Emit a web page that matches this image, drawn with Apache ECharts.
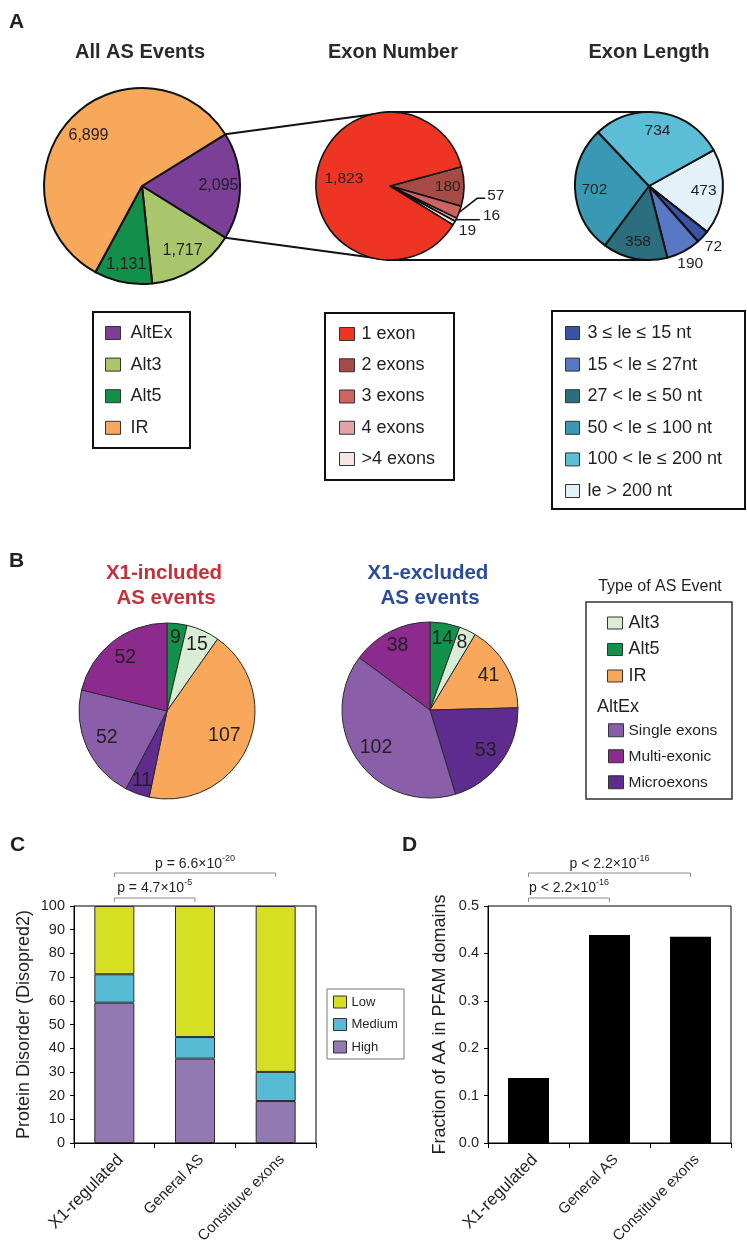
<!DOCTYPE html>
<html><head><meta charset="utf-8">
<script src="https://cdn.jsdelivr.net/npm/echarts@6/dist/echarts.min.js"></script>
<style>html,body{margin:0;padding:0;background:#fff;}#c{width:747px;height:1254px;}</style>
</head><body><div id="c"></div>
<script>
// ---------------- DATA ----------------
const asEventCats = ['AltEx', 'Alt3', 'Alt5', 'IR'];
const asEventCounts = [2095, 1717, 1131, 6899];

const exonNumberCats = ['2 exons', '3 exons', '4 exons', '>4 exons', '1 exon'];
const exonNumberCounts = [180, 57, 16, 19, 1823];
const exonNumberLegend = ['1 exon', '2 exons', '3 exons', '4 exons', '>4 exons'];

const exonLengthCats = ['le > 200 nt', '3 ≤ le ≤ 15 nt', '15 < le ≤ 27nt', '27 < le ≤ 50 nt', '50 < le ≤ 100 nt', '100 < le ≤ 200 nt'];
const exonLengthCounts = [473, 72, 190, 358, 702, 734];
const exonLengthLegend = ['3 ≤ le ≤ 15 nt', '15 < le ≤ 27nt', '27 < le ≤ 50 nt', '50 < le ≤ 100 nt', '100 < le ≤ 200 nt', 'le > 200 nt'];

const typeCats = ['Alt5', 'Alt3', 'IR', 'Microexons', 'Single exons', 'Multi-exonic'];
const x1IncludedCounts = [9, 15, 107, 11, 52, 52];
const x1ExcludedCounts = [14, 8, 41, 53, 102, 38];

const groupCats = ['X1-regulated', 'General AS', 'Constituve exons'];
const disorderHigh = [59.2, 35.6, 17.7];
const disorderMedium = [12.0, 9.1, 12.3];
const disorderLow = [28.8, 55.3, 70.0];
const disorderTicks = [0, 10, 20, 30, 40, 50, 60, 70, 80, 90, 100];
const pfamFraction = [0.137, 0.439, 0.435];
const pfamTicks = [0.0, 0.1, 0.2, 0.3, 0.4, 0.5];
const pTextsC = ['p = 6.6×10|-20', 'p = 4.7×10|-5'];
const pTextsD = ['p < 2.2×10|-16', 'p < 2.2×10|-16'];

// ---------------- STYLE / LAYOUT ----------------
const FONT = 'Liberation Sans, Arial, Helvetica, sans-serif';
const INK = '#231F20';
const colAsEvent = {'AltEx':'#7B3F98','Alt3':'#A9C66D','Alt5':'#12904A','IR':'#F8A85B'};
const colExonNum = {'1 exon':'#EE3524','2 exons':'#A64A46','3 exons':'#CE6461','4 exons':'#E3A4A6','>4 exons':'#F7E5E5'};
const colExonLen = {'3 ≤ le ≤ 15 nt':'#3A53A4','15 < le ≤ 27nt':'#5878C4','27 < le ≤ 50 nt':'#2B6E7D','50 < le ≤ 100 nt':'#3998B3','100 < le ≤ 200 nt':'#5CBDD6','le > 200 nt':'#E3F2F8'};
const colType = {'Alt5':'#12914A','Alt3':'#D8EDD3','IR':'#F9A85B','Microexons':'#5D2C8E','Single exons':'#8A5EA8','Multi-exonic':'#8C2A8D'};
const colDis = {High:'#9179B2', Medium:'#56BBD3', Low:'#D7DF23'};

const P1 = {c:[142,186], r:98}, P2 = {c:[390,186], r:74}, P3 = {c:[649,186], r:74};
const PB1 = {c:[167,711], r:88}, PB2 = {c:[430,710], r:88};
const GC = {left:74, top:906, width:242, height:237};
const GD = {left:488, top:906, width:243, height:237};

const f1 = [0.78, 0.78, 0.82, 0.75];
const f2 = [0.78, null, null, 1.21, 0.63];
const lines2 = {1:{bends:[[18,-14],[8,0]], gap:2, dy:-3}, 2:{bends:[[12,0],[12,0]], gap:3, dy:-4}};
const f3 = [0.74, 1.2, 1.19, 0.77, 0.74, 0.75];
const fB1 = [0.84, 0.83, 0.71, 0.84, 0.75, 0.77];
const fB2 = [0.82, 0.85, 0.77, 0.78, 0.75, 0.82];

const start1 = 360 * asEventCounts[0] / asEventCounts.reduce((a,b)=>a+b,0) / 2;

function makeLabelLayout(P, values, startAngle, factors, lines) {
  const total = values.reduce((a,b)=>a+b,0);
  let acc = 0;
  const mids = values.map(v => { const m = startAngle - (acc + v/2)/total*360; acc += v; return m*Math.PI/180; });
  return function (p) {
    const i = p.dataIndex, a = mids[i];
    const ux = Math.cos(a), uy = -Math.sin(a);
    const ln = lines && lines[i];
    if (ln) {
      const p0 = [P.c[0] + P.r*ux, P.c[1] + P.r*uy];
      const pts = [p0]; let last = p0;
      ln.bends.forEach(b => { last = [last[0]+b[0], last[1]+b[1]]; pts.push(last); });
      return {x: last[0]+ln.gap, y: last[1]+ln.dy, align:'left', verticalAlign:'middle', labelLinePoints: pts};
    }
    const f = factors[i];
    return {x: P.c[0] + f*P.r*ux, y: P.c[1] + f*P.r*uy, align:'center', verticalAlign:'middle'};
  };
}

function fmt(n) { return n.toLocaleString('en-US'); }

function pieSeries(P, cats, vals, cols, startAngle, factors, lines, opts) {
  return {
    type:'pie', center:P.c, radius:P.r, startAngle:startAngle, clockwise:true,
    avoidLabelOverlap:false, silent:true, animation:false,
    emphasis:{disabled:true},
    itemStyle:{borderColor:opts.border, borderWidth:opts.bw},
    label:{show:true, position:'inside', color:INK, fontSize:opts.fs, fontFamily:FONT,
      formatter: p => opts.comma ? fmt(p.value) : String(p.value)},
    labelLine:{show:false},
    labelLayout: makeLabelLayout(P, vals, startAngle, factors, lines),
    data: cats.map((n,i) => {
      const d = {name:(opts.prefix||'')+n, value:vals[i], itemStyle:{color:cols[n]}};
      if (lines && lines[i]) { d.label = {position:'outside'}; d.labelLine = {show:true, lineStyle:{color:'#111', width:1.5}}; }
      return d;
    })
  };
}

const legendBase = {orient:'vertical', padding:0, selectedMode:false, icon:'rect',
  itemStyle:{borderColor:'#333', borderWidth:1}};

function catAxis(gi) {
  return {type:'category', gridIndex:gi, data:groupCats,
    axisLine:{show:true, lineStyle:{color:'#000', width:1}},
    axisTick:{show:true, length:5, interval:0, lineStyle:{color:'#000'}},
    axisLabel:{interval:0, rotate:45, margin:8, color:INK,
      formatter:(v,i)=> i===0 ? '{b|'+v+'}' : '{s|'+v+'}',
      rich:{b:{fontSize:17, fontFamily:FONT, color:INK, padding:[18,0,0,0]}, s:{fontSize:15, fontFamily:FONT, color:INK, padding:[18,0,0,0]}}},
    splitLine:{show:false}};
}
function valAxis(gi, ticks, name, gap, dec) {
  return {type:'value', gridIndex:gi, min:ticks[0], max:ticks[ticks.length-1], interval:ticks[1]-ticks[0],
    axisLine:{show:true, lineStyle:{color:'#000', width:1}},
    axisTick:{show:true, length:4, lineStyle:{color:'#000'}},
    axisLabel:{fontSize:14.5, color:INK, fontFamily:FONT, margin:9, formatter: v => dec ? v.toFixed(dec) : String(v)},
    splitLine:{show:false},
    name:name, nameLocation:'middle', nameGap:gap, nameRotate:90,
    nameTextStyle:{fontSize:18, color:INK, fontFamily:FONT}};
}

const chart = echarts.init(document.getElementById('c'), null, {renderer:'canvas', width:747, height:1254});
chart.setOption({
  animation:false,
  backgroundColor:'#fff',
  textStyle:{fontFamily:FONT},
  grid:[
    Object.assign({show:true, borderColor:'#000', borderWidth:1, backgroundColor:'transparent', containLabel:false}, GC),
    Object.assign({show:true, borderColor:'#000', borderWidth:1, backgroundColor:'transparent', containLabel:false}, GD)
  ],
  xAxis:[catAxis(0), catAxis(1)],
  yAxis:[valAxis(0, disorderTicks, 'Protein Disorder (Disopred2)', 41, 0), valAxis(1, pfamTicks, 'Fraction of AA in PFAM domains', 39, 1)],
  legend:[
    Object.assign({}, legendBase, {left:105, top:324, itemWidth:15, itemHeight:13, itemGap:13.6, data:asEventCats,
      textStyle:{fontSize:18, color:INK, fontFamily:FONT, padding:[0,0,0,5]}}),
    Object.assign({}, legendBase, {left:339, top:325, itemWidth:15, itemHeight:13, itemGap:13.25, data:exonNumberLegend,
      textStyle:{fontSize:18, color:INK, fontFamily:FONT, padding:[0,0,0,2]}}),
    Object.assign({}, legendBase, {left:565, top:324, itemWidth:14, itemHeight:13, itemGap:13.6, data:exonLengthLegend,
      textStyle:{fontSize:18, color:INK, fontFamily:FONT, padding:[0,0,0,3]}}),
    Object.assign({}, legendBase, {left:607, top:614, itemWidth:15, itemHeight:12, itemGap:8.5, data:['B:Alt3','B:Alt5','B:IR'],
      formatter:n=>n.slice(2), textStyle:{fontSize:18, color:INK, fontFamily:FONT, padding:[0,0,0,1]}}),
    Object.assign({}, legendBase, {left:608, top:722.25, itemWidth:15, itemHeight:13, itemGap:10, data:['B:Single exons','B:Multi-exonic','B:Microexons'],
      formatter:n=>n.slice(2), textStyle:{fontSize:15.5, color:INK, fontFamily:FONT, padding:[0,0,0,0]}}),
    Object.assign({}, legendBase, {left:333, top:995.5, itemWidth:13, itemHeight:12, itemGap:9.5, data:['Low','Medium','High'],
      textStyle:{fontSize:13, color:INK, fontFamily:FONT}})
  ],
  series:[
    pieSeries(P1, asEventCats, asEventCounts, colAsEvent, start1, f1, null, {border:'#111', bw:2, fs:16, comma:true}),
    pieSeries(P2, exonNumberCats, exonNumberCounts, colExonNum, 15, f2, lines2, {border:'#111', bw:1.6, fs:15.5, comma:true}),
    pieSeries(P3, exonLengthCats, exonLengthCounts, colExonLen, 29, f3, null, {border:'#111', bw:2, fs:15.5, comma:true}),
    pieSeries(PB1, typeCats, x1IncludedCounts, colType, 90, fB1, null, {border:'#2a2a2a', bw:1, fs:19.5, prefix:'B:'}),
    pieSeries(PB2, typeCats, x1ExcludedCounts, colType, 90, fB2, null, {border:'#2a2a2a', bw:1, fs:19.5, prefix:'B:'}),
    {type:'bar', name:'High', xAxisIndex:0, yAxisIndex:0, stack:'dis', barWidth:40, data:disorderHigh, silent:true,
      itemStyle:{color:colDis.High, borderColor:'#2b2b2b', borderWidth:1}},
    {type:'bar', name:'Medium', xAxisIndex:0, yAxisIndex:0, stack:'dis', barWidth:40, data:disorderMedium, silent:true,
      itemStyle:{color:colDis.Medium, borderColor:'#2b2b2b', borderWidth:1}},
    {type:'bar', name:'Low', xAxisIndex:0, yAxisIndex:0, stack:'dis', barWidth:40, data:disorderLow, silent:true,
      itemStyle:{color:colDis.Low, borderColor:'#2b2b2b', borderWidth:1}},
    {type:'bar', name:'PFAM', xAxisIndex:1, yAxisIndex:1, barWidth:41, data:pfamFraction, silent:true,
      itemStyle:{color:'#000'}}
  ]
});

// ---------------- annotations ----------------
function txt(x, y, text, size, opts) {
  opts = opts || {};
  return {type:'text', x:x, y:y, silent:true, z:50, style:{text:text, fontSize:size, fontFamily:FONT,
    fontWeight:opts.bold?'bold':'normal', fill:opts.color||INK,
    align:opts.align||'center', textAlign:opts.align||'center', verticalAlign:'middle', textVerticalAlign:'middle'}};
}
function ptxt(x, y, s) {
  const parts = s.split('|');
  return {type:'text', x:x, y:y, silent:true, z:50, style:{
    text:'{n|'+parts[0]+'}{s|'+parts[1]+'}', fill:INK, fontFamily:FONT, fontSize:14,
    align:'center', textAlign:'center', verticalAlign:'middle', textVerticalAlign:'middle',
    rich:{n:{fontSize:14, fontFamily:FONT, fill:INK, lineHeight:20}, s:{fontSize:9, fontFamily:FONT, fill:INK, lineHeight:9, verticalAlign:'top'}}}};
}
function bracket(x1, x2, y) {
  return {type:'polyline', silent:true, z:50, shape:{points:[[x1,y+4],[x1,y],[x2,y],[x2,y+4]]},
    style:{stroke:'#8a8a8a', lineWidth:1, fill:null}};
}
function box(x, y, w, h, lw, col) {
  return {type:'rect', silent:true, z:1, shape:{x:x, y:y, width:w, height:h}, style:{fill:null, stroke:col, lineWidth:lw}};
}

const cx = groupCats.map(c => chart.convertToPixel({xAxisIndex:0}, c));
const dx = groupCats.map(c => chart.convertToPixel({xAxisIndex:1}, c));
const a1 = start1*Math.PI/180;
const pTop = [P1.c[0]+P1.r*Math.cos(a1), P1.c[1]-P1.r*Math.sin(a1)];
const pBot = [P1.c[0]+P1.r*Math.cos(a1), P1.c[1]+P1.r*Math.sin(a1)];

const els = [
  txt(9, 22, 'A', 21, {bold:true, align:'left'}),
  txt(9, 561, 'B', 21, {bold:true, align:'left'}),
  txt(10, 845, 'C', 21, {bold:true, align:'left'}),
  txt(402, 845, 'D', 21, {bold:true, align:'left'}),
  txt(140, 52, 'All AS Events', 20, {bold:true, color:'#2a2a2a'}),
  txt(393, 52, 'Exon Number', 20, {bold:true, color:'#2a2a2a'}),
  txt(649, 52, 'Exon Length', 20, {bold:true, color:'#2a2a2a'}),
  txt(164, 573, 'X1-included', 20.5, {bold:true, color:'#C4303B'}),
  txt(166, 598, 'AS events', 20.5, {bold:true, color:'#C4303B'}),
  txt(428, 573, 'X1-excluded', 20.5, {bold:true, color:'#2C4C9B'}),
  txt(430, 598, 'AS events', 20.5, {bold:true, color:'#2C4C9B'}),
  txt(660, 587, 'Type of AS Event', 16),
  txt(597, 707, 'AltEx', 18, {align:'left'}),
  {type:'polyline', silent:true, z:0, shape:{points:[pTop,[P2.c[0],P2.c[1]-P2.r],[P3.c[0],P3.c[1]-P3.r]]}, style:{stroke:'#111', lineWidth:2, fill:null}},
  {type:'polyline', silent:true, z:0, shape:{points:[pBot,[P2.c[0],P2.c[1]+P2.r],[P3.c[0],P3.c[1]+P3.r]]}, style:{stroke:'#111', lineWidth:2, fill:null}},
  box(93, 312, 97, 136, 2, '#111'),
  box(325, 313, 129, 167, 2, '#111'),
  box(552, 311, 193, 198, 2, '#111'),
  box(586, 602, 146, 197, 1.5, '#333'),
  box(327, 989, 77, 70, 1, '#777'),
  bracket(cx[0], cx[2], 873), ptxt((cx[0]+cx[2])/2, 864, pTextsC[0]),
  bracket(cx[0], cx[1], 898), ptxt((cx[0]+cx[1])/2, 888, pTextsC[1]),
  bracket(dx[0], dx[2], 873), ptxt((dx[0]+dx[2])/2, 864, pTextsD[0]),
  bracket(dx[0], dx[1], 898), ptxt((dx[0]+dx[1])/2, 888, pTextsD[1])
];
chart.setOption({graphic:{elements:els}});
</script>
</body></html>
